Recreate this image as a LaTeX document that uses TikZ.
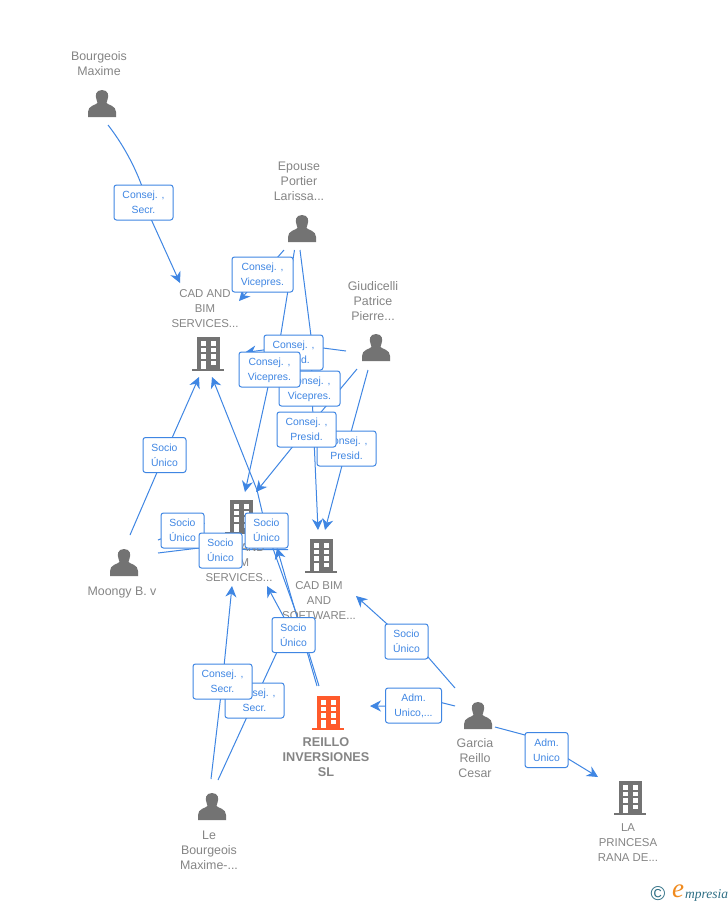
\documentclass[tikz,border=0pt]{standalone}
\usepackage{fontspec}
\setmainfont{Liberation Sans}
\newfontfamily\logofont{Liberation Serif}
\usetikzlibrary{arrows.meta,backgrounds}
\definecolor{edgeblue}{HTML}{3F86E3}
\definecolor{txtgrey}{HTML}{858585}
\definecolor{icongrey}{HTML}{737373}
\definecolor{iconorange}{HTML}{FF5A2B}
\definecolor{logoteal}{HTML}{2E6F85}
\definecolor{logoorange}{HTML}{F08A1D}
\tikzset{
  x=1pt,y=-1pt,
  edgeline/.style={draw=edgeblue,line width=1pt,line join=round},
  edgearrow/.style={edgeline,-{Stealth[length=11pt,width=11pt,inset=3.5pt]}},
  lab/.style={draw=edgeblue,line width=1pt,rounded corners=2.5pt,fill=white,
     text=edgeblue,font=\fontsize{10.4}{15}\selectfont,align=center,inner sep=0pt,minimum height=35pt,
     text height=22pt,text depth=0pt},
  labS/.style={lab,minimum width=43pt},
  labM/.style={lab,minimum width=59pt},
  labW/.style={lab,minimum width=61pt},
  who/.style={text=txtgrey,font=\fontsize{12.4}{15}\selectfont,align=center,inner sep=0pt},
  firm/.style={text=txtgrey,font=\fontsize{11.4}{15}\selectfont,align=center,inner sep=0pt},
  main/.style={text=txtgrey,font=\fontsize{12.7}{15}\selectfont\bfseries,align=center,inner sep=0pt},
  personicon/.pic={
    \fill[icongrey] (0,-14) .. controls (-6.5,-14) and (-7,-8) .. (-5.5,-4.5)
       .. controls (-5,-3) and (-4.5,-2.5) .. (-4.5,-1)
       .. controls (-6,1) and (-14,1.5) .. (-14,8) -- (-14,13) -- (14,13) -- (14,8)
       .. controls (14,1.5) and (6,1) .. (4.5,-1)
       .. controls (4.5,-2.5) and (5,-3) .. (5.5,-4.5)
       .. controls (7,-8) and (6.5,-14) .. (0,-14) -- cycle;
  },
  buildicon/.pic={
    \fill[pic actions] (-11.5,-17) rectangle (11.5,15);
    \fill[pic actions] (-16,15) rectangle (16,17);
    \foreach \cx in {-7.5,2.5}{
      \foreach \cy in {-13,-6.5,0}{
        \fill[white] (\cx,\cy) rectangle ++(5,4.5);
      }
    }
    \fill[white] (2.5,6.5) rectangle ++(5,4.5);
    \fill[white] (-7.5,6.5) rectangle ++(5,8.5);
  },
}
\begin{document}
\begin{tikzpicture}
\useasboundingbox (0,0) rectangle (728,905);

% icons
\pic at (102,104) {personicon};
\pic at (302,229) {personicon};
\pic at (376,348) {personicon};
\pic at (124,563) {personicon};
\pic at (478,716) {personicon};
\pic at (212,807) {personicon};
\pic[fill=icongrey] at (208,354) {buildicon};
\pic[fill=icongrey] at (241,517) {buildicon};
\pic[fill=icongrey] at (321,556) {buildicon};
\pic[fill=iconorange] at (328,713) {buildicon};
\pic[fill=icongrey] at (630,798) {buildicon};

% names
\node[who] (bourgeois) at (99,63.5) {Bourgeois\\Maxime};
\node[who] (epouse) at (299,181) {Epouse\\Portier\\Larissa...};
\node[who] (giudicelli) at (373,301) {Giudicelli\\Patrice\\Pierre...};
\node[who] (moongy) at (122,592.5) {Moongy B. v};
\node[who] (garcia) at (475,758) {Garcia\\Reillo\\Cesar};
\node[who] (lebourgeois) at (209,850) {Le\\Bourgeois\\Maxime-...};
\node[firm] (cadbim) at (205,309) {CAD AND\\BIM\\SERVICES...};
\node[firm] (cadbimtwo) at (239,563) {CAD AND\\BIM\\SERVICES...};
\node[firm] (software) at (319,601) {CAD BIM\\AND\\SOFTWARE...};
\node[main] (reillo) at (326,757) {REILLO\\INVERSIONES\\SL};
\node[firm] (princesa) at (628,843) {LA\\PRINCESA\\RANA DE...};

% connector end points
\coordinate (bo) at (108,125);
\coordinate (bi) at (180,283);
\coordinate (epA) at (284,250);
\coordinate (epB) at (294.5,250);
\coordinate (epC) at (300,250);
\coordinate (giA) at (346,351);
\coordinate (giB) at (357,369);
\coordinate (giC) at (368,370);
\coordinate (moA) at (130,535);
\coordinate (moB) at (158,540);
\coordinate (moC) at (158,553);
\coordinate (gaA) at (455,688);
\coordinate (gaB) at (455,706);
\coordinate (gaC) at (495,727);
\coordinate (leA) at (211,779);
\coordinate (leB) at (218,780);
\coordinate (reA) at (317,686);
\coordinate (reB) at (319,686);
\coordinate (toA) at (239,301);
\coordinate (toB) at (245,352.5);
\coordinate (toC) at (199,377);
\coordinate (toD) at (212,377);
\coordinate (tbA) at (245,492);
\coordinate (tbB) at (256,492);
\coordinate (tbC) at (205,523);
\coordinate (tbD) at (232,586);
\coordinate (tbE) at (267,586);
\coordinate (tbF) at (277,548);
\coordinate (swA) at (318,530);
\coordinate (swB) at (325,530);
\coordinate (swC) at (356,596);
\coordinate (rtA) at (370,706);
\coordinate (prA) at (598,777);

% labels
\node[labM] (l1) at (143.5,202.5) {Consej. ,\\Secr.};
\node[labW] (l2) at (262.5,274.5) {Consej. ,\\Vicepres.};
\node[labM] (l3) at (293.5,352.5) {Consej. ,\\Presid.};
\node[labW] (l4) at (309.5,388.5) {Consej. ,\\Vicepres.};
\node[labW] (l5) at (269.5,369.5) {Consej. ,\\Vicepres.};
\node[labM] (l6) at (346.5,448.5) {Consej. ,\\Presid.};
\node[labM] (l7) at (306.5,429.5) {Consej. ,\\Presid.};
\node[labS] (l8) at (164.5,455) {Socio\\Único};
\node[labS] (l9) at (182.5,530.5) {Socio\\Único};
\node[labS] (l11) at (220.5,550.5) {Socio\\Único};
\node[labS] (l10) at (266.5,530.5) {Socio\\Único};
\node[labS] (l12) at (293.5,635) {Socio\\Único};
\node[labS] (l13) at (406.5,641.5) {Socio\\Único};
\node[labM] (l14) at (254.5,700.5) {Consej. ,\\Secr.};
\node[labM] (l15) at (222.5,681.5) {Consej. ,\\Secr.};
\node[lab,minimum width=56pt] (l16) at (413.5,705.5) {Adm.\\Unico,...};
\node[labS] (l17) at (546.5,750) {Adm.\\Unico};

\begin{scope}[on background layer]
  \fill[white] (0,0) rectangle (728,905);
  % Bourgeois -> CAD AND BIM
  \draw[edgearrow] (bo) .. controls (122,143) and (136,167) .. (145,195) -- (l1.center) -- (bi);
  % Epouse
  \draw[edgearrow] (epA) -- (l2.center) -- (toA);
  \draw[edgearrow] (epB) -- (278,352) -- (268,387) -- (tbA);
  \draw[edgearrow] (epC) -- (311,336) -- (312.5,405) -- (swA);
  % Giudicelli
  \draw[edgearrow] (giA) -- (323,348) -- (293,346) -- (toB);
  \draw[edgearrow] (giB) -- (l7.center) -- (tbB);
  \draw[edgearrow] (giC) -- (l6.center) -- (swB);
  % Moongy
  \draw[edgearrow] (moA) -- (l8.center) -- (toC);
  \draw[edgearrow] (moB) -- (l9.center) -- (tbC);
  \draw[edgeline] (moC) -- (199,548) -- (245,549.5) -- (288,549.5);
  % Reillo
  \draw[edgearrow] (reA) -- (tbF);
  \draw[edgearrow] (reB) -- (298,618) -- (l10.center) -- (257,490) -- (toD);
  % Le Bourgeois
  \draw[edgearrow] (leA) -- (l15.center) -- (tbD);
  \draw[edgeline] (leB) -- (l14.center) -- (277,652) -- (l12.center);
  \draw[edgearrow] (l12.center) -- (tbE);
  % Garcia
  \draw[edgearrow] (gaA) -- (428,657) -- (l13.center) -- (swC);
  \draw[edgearrow] (gaB) -- (441,702.5) -- (l16.center) -- (385,706) -- (rtA);
  \draw[edgearrow] (gaC) -- (525,735) -- (568.5,759) -- (prA);
\end{scope}

% logo
\node[inner sep=0pt,text=logoteal,font=\fontsize{20}{20}\selectfont] (copyr) at (658,894) {©};
\node[inner sep=0pt,text=logoorange,font=\logofont\itshape\fontsize{27}{27}\selectfont] (logoe) at (678,891) {e};
\node[inner sep=0pt,text=logoteal,font=\logofont\itshape\fontsize{13.5}{14}\selectfont,anchor=west] (logot) at (685,895) {mpresia};
\end{tikzpicture}
\end{document}
